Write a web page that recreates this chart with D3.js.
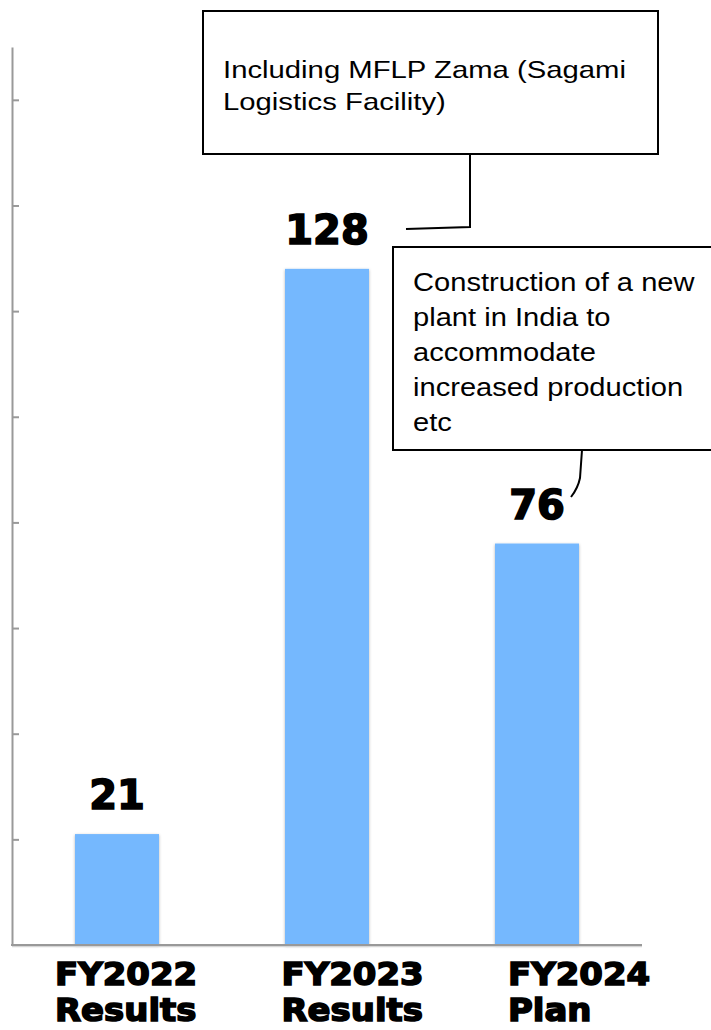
<!DOCTYPE html>
<html>
<head>
<meta charset="utf-8">
<script src="https://cdn.jsdelivr.net/npm/d3@7"></script>
<style>
  html, body { margin: 0; padding: 0; background: #fff; }
  svg { display: block; }
</style>
</head>
<body>
<svg id="chart" width="711" height="1030"></svg>
<script>
// Capital expenditure by fiscal year
const categories = ["FY2022", "FY2023", "FY2024"];
const values = [21, 128, 76];
const labelLine1 = ["FY2022", "FY2023", "FY2024"];
const labelLine2 = ["Results", "Results", "Plan"];
const tickValues = [20, 40, 60, 80, 100, 120, 140, 160];
const note1 = ["Including MFLP Zama (Sagami", "Logistics Facility)"];
const note2 = ["Construction of a new", "plant in India to", "accommodate", "increased production", "etc"];

const svg = d3.select("#chart");
const heavy = "'DejaVu Sans', 'Liberation Sans', sans-serif";
const plain = "'Liberation Sans', Arial, sans-serif";

const x = d3.scaleBand().domain(categories).range([12, 642]).paddingInner(0.6).paddingOuter(0.3);
const y = d3.scaleLinear().domain([0, 170]).range([945, 47]);
const labelX = d3.scalePoint().domain(categories).range([55, 508]);

// soft shadow around bars
const defs = svg.append("defs");
const f = defs.append("filter").attr("id", "barShadow").attr("x", "-20%").attr("y", "-5%").attr("width", "140%").attr("height", "110%");
f.append("feDropShadow").attr("dx", 0).attr("dy", 1).attr("stdDeviation", 1.6).attr("flood-color", "#000").attr("flood-opacity", 0.3);

// y axis with inward ticks, no labels
const yAxis = svg.append("g")
  .attr("transform", "translate(12,0)")
  .call(d3.axisLeft(y).tickValues(tickValues).tickSizeInner(-7).tickSizeOuter(0).tickFormat(""));
yAxis.selectAll("path, line").attr("stroke", "#999").attr("stroke-width", 2);

// bars
svg.append("g").selectAll("rect")
  .data(categories)
  .join("rect")
  .attr("x", d => x(d))
  .attr("y", (d, i) => y(values[i]))
  .attr("width", x.bandwidth())
  .attr("height", (d, i) => y(0) - y(values[i]))
  .attr("fill", "#75b8fe")
  .attr("filter", "url(#barShadow)");

// baseline
svg.append("line").attr("x1", 12).attr("x2", x.range()[1]).attr("y1", y(0) + 1.5).attr("y2", y(0) + 1.5)
  .attr("stroke", "#d6d6d6").attr("stroke-width", 1.5);
svg.append("line").attr("x1", 11).attr("x2", x.range()[1]).attr("y1", y(0)).attr("y2", y(0))
  .attr("stroke", "#999").attr("stroke-width", 2);

// value labels
svg.append("g").selectAll("text")
  .data(categories)
  .join("text")
  .attr("x", d => x(d) + x.bandwidth() / 2)
  .attr("y", (d, i) => y(values[i]) - 25)
  .attr("text-anchor", "middle")
  .attr("font-family", heavy)
  .attr("font-weight", "bold")
  .attr("font-size", 40)
  .attr("stroke", "#000").attr("stroke-width", 1.6)
  .attr("fill", "#000")
  .text((d, i) => values[i]);

// category labels (two lines, slightly widened)
const cat = svg.append("g");
function catLine(cls, lines, baseY) {
  cat.selectAll("text." + cls).data(categories).join("text").attr("class", cls)
    .attr("transform", d => `translate(${labelX(d)},${baseY}) scale(1.06,1)`)
    .attr("font-family", heavy).attr("font-weight", "bold").attr("font-size", 32)
    .attr("stroke", "#000").attr("stroke-width", 1.6).attr("fill", "#000")
    .text((d, i) => lines[i]);
}
catLine("l1", labelLine1, 985);
catLine("l2", labelLine2, 1021);

// callout 1
svg.append("path").attr("d", "M470,154 L470,227 L406,229").attr("fill", "none").attr("stroke", "#000").attr("stroke-width", 2);
svg.append("rect").attr("x", 203).attr("y", 11).attr("width", 455).attr("height", 143)
  .attr("fill", "#fff").attr("stroke", "#000").attr("stroke-width", 2);
const t1 = svg.append("g").attr("transform", "translate(223,0)");
t1.selectAll("text").data(note1).join("text")
  .attr("x", 0).attr("y", (d, i) => 78 + i * 32)
  .attr("font-family", plain).attr("font-size", 24)
  .attr("transform", "scale(1.22,1)")
  .attr("fill", "#000").text(d => d);

// callout 2
svg.append("path").attr("d", "M582,450 L580,478 Q578,488 571,497").attr("fill", "none").attr("stroke", "#000").attr("stroke-width", 2);
svg.append("rect").attr("x", 393).attr("y", 247).attr("width", 330).attr("height", 203)
  .attr("fill", "#fff").attr("stroke", "#000").attr("stroke-width", 2);
const t2 = svg.append("g").attr("transform", "translate(413,0)");
t2.selectAll("text").data(note2).join("text")
  .attr("x", 0).attr("y", (d, i) => 291 + i * 35)
  .attr("font-family", plain).attr("font-size", 26)
  .attr("transform", "scale(1.12,1)")
  .attr("fill", "#000").text(d => d);
</script>
</body>
</html>
